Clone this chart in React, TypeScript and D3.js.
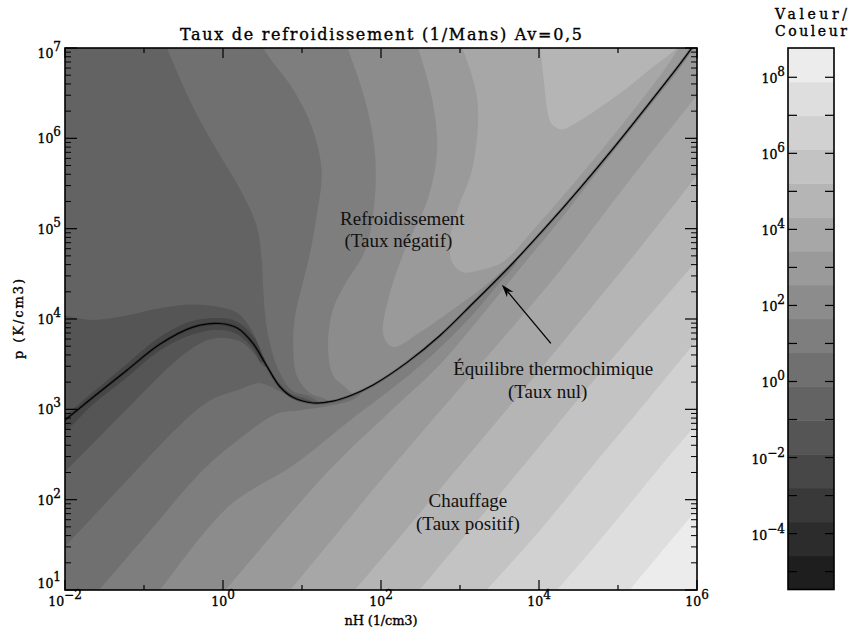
import React from 'react';
import * as d3 from 'd3';

type P = [number, number]; // [log10 nH, log10 p]

// ---------- data (log10 coordinates) ----------
const curvePts: P[] = [[-2.10,2.81],[-1.65,3.13],[-1.22,3.43],[-0.80,3.72],[-0.38,3.91],[-0.04,3.95],[0.18,3.90],[0.38,3.73],[0.56,3.47],[0.72,3.25],[0.89,3.13],[1.14,3.07],[1.39,3.09],[1.61,3.15],[1.90,3.27],[2.33,3.52],[2.75,3.82],[3.17,4.18],[3.67,4.62],[4.10,5.03],[4.52,5.45],[4.94,5.89],[5.37,6.36],[5.79,6.83],[5.94,7.01],[6.06,7.16]];

// cooling side contours (above equilibrium curve): boundary k-1 / k
const coolC4: P[] = [[-2.13,2.90],[-2.0,2.94],[-1.65,3.19],[-1.22,3.50],[-0.80,3.80],[-0.38,3.98],[-0.04,4.01],[0.18,3.97],[0.41,3.78],[0.60,3.48],[0.79,3.10],[1.48,2.88],[7.0,3.0]];
const coolC5: P[] = [[-2.13,4.06],[-2.0,4.04],[-1.65,3.99],[-1.22,4.04],[-0.80,4.12],[-0.38,4.16],[-0.04,4.13],[0.18,4.07],[0.34,3.91],[0.44,3.73],[0.53,3.55],[0.66,3.35],[0.85,3.18],[1.10,3.10],[1.48,2.88],[7.0,3.0]];
const coolC6: P[] = [[-0.80,7.2],[-0.71,7.0],[-0.38,6.35],[-0.08,5.87],[0.22,5.43],[0.43,5.02],[0.49,4.65],[0.51,4.32],[0.54,3.99],[0.60,3.71],[0.70,3.44],[0.87,3.21],[1.13,3.13],[1.48,2.88],[7.0,3.0]];
const coolC7: P[] = [[0.44,7.2],[0.51,7.0],[0.89,6.54],[1.14,6.09],[1.25,5.62],[1.19,5.17],[1.11,4.76],[1.01,4.40],[0.91,4.02],[0.89,3.66],[0.94,3.36],[1.10,3.18],[1.32,3.10],[1.54,2.88],[7.0,3.0]];
const coolC8: P[] = [[1.51,7.2],[1.58,7.0],[1.80,6.42],[1.92,5.87],[1.92,5.32],[1.80,4.76],[1.54,4.38],[1.39,4.10],[1.33,3.71],[1.39,3.38],[1.54,3.25],[1.73,3.10],[1.99,2.88],[7.0,3.0]];
const coolC9: P[] = [[2.39,7.2],[2.47,7.0],[2.65,6.42],[2.71,5.87],[2.59,5.32],[2.30,4.76],[2.09,4.21],[2.03,3.82],[2.15,3.69],[2.49,3.85],[2.87,4.08],[3.25,4.32],[3.61,4.59],[3.89,4.76],[4.15,4.99],[4.57,5.41],[4.99,5.85],[5.42,6.31],[5.84,6.78],[6.16,7.14]];
const coolC10: P[] = [[2.94,7.2],[3.03,7.0],[3.22,6.42],[3.16,5.68],[2.97,5.21],[2.87,4.87],[2.90,4.63],[3.03,4.52],[3.25,4.54],[3.54,4.63],[3.97,5.03],[4.39,5.45],[4.81,5.89],[5.24,6.36],[5.66,6.85],[5.91,7.2],[6.10,7.37]];
const coolC11: P[] = [[3.95,7.2],[4.01,7.0],[4.06,6.65],[4.10,6.34],[4.16,6.16],[4.29,6.10],[4.49,6.18],[4.77,6.34],[5.09,6.54],[5.44,6.79],[5.72,6.98],[5.91,7.2],[6.16,7.42]];
const coolContours: P[][] = [coolC4, coolC5, coolC6, coolC7, coolC8, coolC9, coolC10, coolC11];
const coolBands: number[] = [4, 5, 6, 7, 8, 9, 10, 11];

// heating side contours (below equilibrium curve): boundary k-1 / k
const heatH4: P[] = [[-2.13,2.72],[-2.0,2.76],[-1.65,3.05],[-1.22,3.35],[-0.80,3.65],[-0.38,3.83],[-0.04,3.88],[0.18,3.83],[0.38,3.67],[0.49,3.52],[0.57,3.60],[6.04,7.53]];
const heatH5: P[] = [[-2.13,2.20],[-2.0,2.31],[-1.30,2.93],[-0.58,3.55],[-0.29,3.73],[-0.08,3.79],[0.22,3.75],[0.41,3.60],[0.51,3.48],[0.66,3.49],[6.04,7.53]];
const heatH6: P[] = [[-2.13,1.35],[-2.0,1.48],[-1.56,1.89],[-1.09,2.33],[-0.54,2.83],[-0.16,3.10],[0.18,3.21],[0.47,3.29],[0.72,3.20],[0.97,3.09],[1.13,3.15],[6.04,7.53]];
const heatH7: P[] = [[-1.68,0.89],[-1.57,1.0],[-0.92,1.66],[-0.25,2.33],[0.22,2.68],[0.68,2.95],[0.97,2.99],[1.35,3.04],[1.67,3.12],[1.89,3.33],[6.04,7.53]];
const heatH8: P[] = [[-0.92,0.87],[-0.80,1.0],[0.09,1.94],[0.89,2.38],[1.61,2.88],[2.11,3.21],[2.62,3.58],[3.13,4.02],[3.51,4.41],[3.70,4.60],[3.76,4.76],[6.04,7.53]];
const heatH9: P[] = [[-0.10,0.87],[0.03,1.0],[1.35,2.33],[2.11,2.97],[2.75,3.50],[3.25,4.01],[3.76,4.56],[4.27,5.10],[4.77,5.66],[5.28,6.22],[5.79,6.78],[6.04,7.11]];
const heatH10: P[] = [[0.72,0.87],[0.85,1.0],[2.11,2.33],[3.25,3.49],[4.27,4.54],[5.15,5.54],[6.0,6.48],[6.16,6.67]];
const heatH11: P[] = [[1.54,0.87],[1.67,1.0],[3.0,2.38],[4.27,3.71],[5.28,4.79],[6.0,5.59],[6.16,5.78]];
const heatH12: P[] = [[2.37,0.87],[2.49,1.0],[3.76,2.33],[4.77,3.40],[6.0,4.65],[6.16,4.82]];
const heatH13: P[] = [[3.22,0.87],[3.34,1.0],[4.01,1.66],[4.77,2.47],[5.41,3.14],[6.0,3.77],[6.16,3.95]];
const heatH14: P[] = [[4.10,0.87],[4.23,1.0],[4.77,1.55],[5.53,2.36],[6.0,2.85],[6.16,3.02]];
const heatH15: P[] = [[5.03,0.87],[5.15,1.0],[6.0,1.89],[6.16,2.05]];
const heatContours: P[][] = [heatH4, heatH5, heatH6, heatH7, heatH8, heatH9, heatH10, heatH11, heatH12, heatH13, heatH14, heatH15];
const heatBands: number[] = [4, 5, 6, 7, 8, 9, 10, 11, 12, 13, 14, 15];
const baseBand = 3;

// colour bar level boundaries (log10 of value)
const levelExps: number[] = [-5.47,-4.58,-3.69,-2.80,-1.91,-1.02,-0.13,0.76,1.65,2.54,3.43,4.32,5.21,6.10,6.99,7.88,8.77];

const xTickExps = [-2, -1, 0, 1, 2, 3, 4, 5, 6];
const xLabelExps = [-2, 0, 2, 4, 6];
const yTickExps = [1, 2, 3, 4, 5, 6, 7];
const cbTickExps = [-5, -4, -3, -2, -1, 0, 1, 2, 3, 4, 5, 6, 7, 8];
const cbLabelExps = [-4, -2, 0, 2, 4, 6, 8];

const arrowTail: P = [4.15, 3.73];
const arrowTip: P = [3.53, 4.38];

const titleText = 'Taux de refroidissement (1/Mans) Av=0,5';
const xTitle = 'nH (1/cm3)';
const yTitle = 'p (K/cm3)';
const cbTitle1 = 'Valeur/';
const cbTitle2 = 'Couleur';
const annotations: { text: string; at: P }[] = [
  { text: 'Refroidissement', at: [2.27, 5.04] },
  { text: '(Taux négatif)', at: [2.22, 4.80] },
  { text: 'Équilibre thermochimique', at: [4.18, 3.38] },
  { text: '(Taux nul)', at: [4.11, 3.13] },
  { text: 'Chauffage', at: [3.10, 1.92] },
  { text: '(Taux positif)', at: [3.10, 1.66] },
];

// ---------- layout ----------
const W = 851, H = 637;
const PL = 65, PR = 697, PT = 48, PB = 590;
const CBL = 788, CBR = 834, CBT = 48, CBB = 589.5;
const LABEL_FONT = "'DejaVu Serif', serif";
const TEXT_FONT = "'Liberation Serif', 'Times New Roman', serif";

const grayScale = d3.scaleLinear().domain([0, 15]).range([30, 236]);
const gray = (k: number) => {
  const v = Math.round(grayScale(k));
  return `rgb(${v},${v},${v})`;
};
const fmtExp = (e: number) => (e < 0 ? '\u2212' + Math.abs(e) : String(e));

export default function App() {
  const x = d3.scaleLog().domain([1e-2, 1e6]).range([PL, PR]);
  const y = d3.scaleLog().domain([1e1, 1e7]).range([PB, PT]);
  const cb = d3.scaleLog().domain([Math.pow(10, levelExps[0]), Math.pow(10, levelExps[levelExps.length - 1])]).range([CBB, CBT]);
  const px = (p: P) => x(Math.pow(10, p[0]));
  const py = (p: P) => y(Math.pow(10, p[1]));
  const smooth = d3.line<P>().x(px).y(py).curve(d3.curveCatmullRom.alpha(0.5));
  const closed = (pts: P[], closure: P[]) =>
    (smooth(pts) || '') + closure.map((c) => `L${px(c)},${py(c)}`).join('') + 'Z';

  const c0 = curvePts[0];
  const cEnd = curvePts[curvePts.length - 1];
  const coolClip = closed(curvePts, [[cEnd[0] + 0.5, 9], [-3, 9], [-3, c0[1]]]);
  const heatClip = closed(curvePts, [[9, cEnd[1]], [9, -1], [-3, -1], [-3, c0[1]]]);

  const tail = [px(arrowTail), py(arrowTail)];
  const tip = [px(arrowTip), py(arrowTip)];
  const dx = tip[0] - tail[0], dy = tip[1] - tail[1];
  const len = Math.hypot(dx, dy);
  const ux = dx / len, uy = dy / len;
  const hl = 13, hw = 4.2;
  const bx = tip[0] - ux * hl, by = tip[1] - uy * hl;
  const head = `M${tip[0]},${tip[1]}L${bx - uy * hw},${by + ux * hw}L${tip[0] - ux * (hl - 4)},${tip[1] - uy * (hl - 4)}L${bx + uy * hw},${by - ux * hw}Z`;

  const yMinor: number[] = [];
  for (let e = 1; e < 7; e++) for (let m = 2; m <= 9; m++) yMinor.push(m * Math.pow(10, e));

  const heavy = { stroke: '#000', strokeWidth: 0.35 };

  const pow10Label = (key: string, xx: number, yy: number, e: number, anchor: string) => (
    <text key={key} x={xx} y={yy} textAnchor={anchor as any} fontFamily={LABEL_FONT} fontSize={12.5} fill="#000" {...heavy}>
      10<tspan dy={-7} fontSize={12}>{fmtExp(e)}</tspan>
    </text>
  );

  return (
    <svg width={W} height={H} style={{ position: 'absolute', left: 0, top: 0, display: 'block' }} xmlns="http://www.w3.org/2000/svg">
      <defs>
        <clipPath id="plotClip"><rect x={PL} y={PT} width={PR - PL} height={PB - PT} /></clipPath>
        <clipPath id="coolClip"><path d={coolClip} /></clipPath>
        <clipPath id="heatClip"><path d={heatClip} /></clipPath>
      </defs>
      <rect x={0} y={0} width={W} height={H} fill="#fff" />

      <g clipPath="url(#plotClip)">
        <g clipPath="url(#coolClip)">
          <rect x={PL} y={PT} width={PR - PL} height={PB - PT} fill={gray(baseBand)} />
          {coolContours.map((pts, i) => (
            <path key={'c' + i} d={closed(pts, [[9, 0], [9, 9], [pts[0][0], 9]])} fill={gray(coolBands[i])} />
          ))}
        </g>
        <g clipPath="url(#heatClip)">
          <rect x={PL} y={PT} width={PR - PL} height={PB - PT} fill={gray(baseBand)} />
          {heatContours.map((pts, i) => (
            <path key={'h' + i} d={closed(pts, [[9, -1], [pts[0][0], -1]])} fill={gray(heatBands[i])} />
          ))}
        </g>
        <path d={smooth(curvePts) || ''} fill="none" stroke="rgba(0,0,0,0.2)" strokeWidth={3} />
        <path d={smooth(curvePts) || ''} fill="none" stroke="#000" strokeWidth={1.2} />
      </g>

      {/* annotations */}
      {annotations.map((a, i) => (
        <text key={'a' + i} x={px(a.at)} y={py(a.at)} textAnchor="middle" fontFamily={TEXT_FONT} fontSize={19} fill="#111">
          {a.text}
        </text>
      ))}
      <line x1={tail[0]} y1={tail[1]} x2={bx + ux * 4} y2={by + uy * 4} stroke="#000" strokeWidth={1.3} />
      <path d={head} fill="#000" />

      {/* frame */}
      <rect x={PL} y={PT} width={PR - PL} height={PB - PT} fill="none" stroke="#000" strokeWidth={1.6} />

      {/* x ticks */}
      {xTickExps.map((e) => {
        const xx = x(Math.pow(10, e));
        const l = e % 2 === 0 ? 10 : 5;
        return (
          <g key={'xt' + e}>
            <line x1={xx} x2={xx} y1={PB} y2={PB - l} stroke="#000" strokeWidth={1.2} />
            <line x1={xx} x2={xx} y1={PT} y2={PT + l} stroke="#000" strokeWidth={1.2} />
          </g>
        );
      })}
      {xLabelExps.map((e) => pow10Label('xl' + e, x(Math.pow(10, e)), 606, e, 'middle'))}

      {/* y ticks */}
      {yTickExps.map((e) => {
        const yy = y(Math.pow(10, e));
        return (
          <g key={'yt' + e}>
            <line x1={PL} x2={PL + 12} y1={yy} y2={yy} stroke="#000" strokeWidth={1.2} />
            <line x1={PR} x2={PR - 12} y1={yy} y2={yy} stroke="#000" strokeWidth={1.2} />
          </g>
        );
      })}
      {yMinor.map((v, i) => {
        const yy = y(v);
        return (
          <g key={'ym' + i}>
            <line x1={PL} x2={PL + 6} y1={yy} y2={yy} stroke="#000" strokeWidth={1} />
            <line x1={PR} x2={PR - 6} y1={yy} y2={yy} stroke="#000" strokeWidth={1} />
          </g>
        );
      })}
      {yTickExps.map((e) => {
        const yy = y(Math.pow(10, e));
        const off = e === 7 ? 10 : e === 1 ? -2 : 5;
        return pow10Label('yl' + e, 61, yy + off, e, 'end');
      })}

      {/* titles */}
      <text x={(PL + PR) / 2} y={40} textAnchor="middle" fontFamily={LABEL_FONT} fontSize={16} textLength={402} lengthAdjust="spacing" fill="#000" {...heavy}>
        {titleText}
      </text>
      <text x={(PL + PR) / 2} y={625} textAnchor="middle" fontFamily={LABEL_FONT} fontSize={13} textLength={73} lengthAdjust="spacing" fill="#000" {...heavy}>
        {xTitle}
      </text>
      <text transform={`translate(23,${(PT + PB) / 2}) rotate(-90)`} textAnchor="middle" fontFamily={LABEL_FONT} fontSize={13} textLength={80} lengthAdjust="spacing" fill="#000" {...heavy}>
        {yTitle}
      </text>

      {/* colour bar */}
      {levelExps.slice(0, -1).map((e, i) => {
        const y0 = cb(Math.pow(10, levelExps[i + 1]));
        const y1 = cb(Math.pow(10, e));
        return <rect key={'cb' + i} x={CBL} y={y0} width={CBR - CBL} height={y1 - y0 + 0.5} fill={gray(i)} />;
      })}
      <rect x={CBL} y={CBT} width={CBR - CBL} height={CBB - CBT} fill="none" stroke="#000" strokeWidth={1.6} />
      {cbTickExps.map((e) => {
        const yy = cb(Math.pow(10, e));
        return (
          <g key={'cbt' + e}>
            <line x1={CBL} x2={CBL + 9} y1={yy} y2={yy} stroke="#000" strokeWidth={1.2} />
            <line x1={CBR} x2={CBR - 9} y1={yy} y2={yy} stroke="#000" strokeWidth={1.2} />
          </g>
        );
      })}
      {cbLabelExps.map((e) => pow10Label('cbl' + e, 785, cb(Math.pow(10, e)) + 6, e, 'end'))}
      <text x={775} y={19} fontFamily={LABEL_FONT} fontSize={14} textLength={72} lengthAdjust="spacing" fill="#000" {...heavy}>{cbTitle1}</text>
      <text x={775} y={36} fontFamily={LABEL_FONT} fontSize={14} textLength={72} lengthAdjust="spacing" fill="#000" {...heavy}>{cbTitle2}</text>
    </svg>
  );
}
